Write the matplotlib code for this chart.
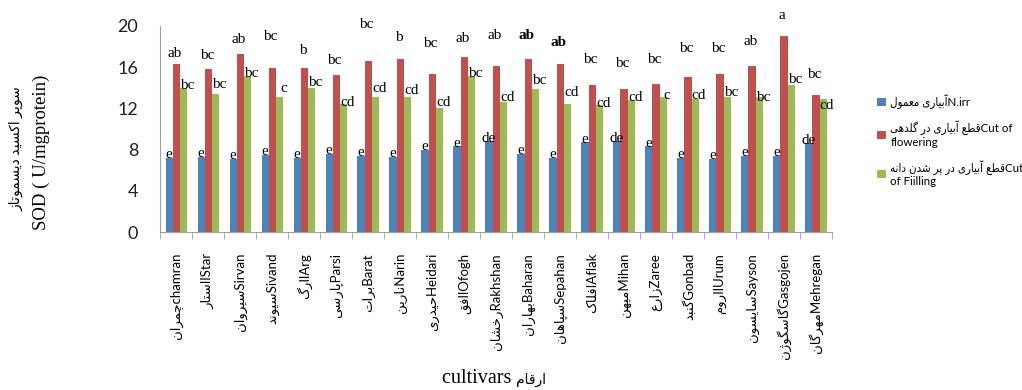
import unicodedata
import numpy as np
import matplotlib
matplotlib.use('Agg')
import matplotlib.pyplot as plt
from matplotlib.font_manager import FontProperties

# SOD activity per cultivar under three irrigation treatments
cultivars_en = ['chamran', 'lStar', 'Sirvan', 'Sivand', 'lArg', 'Parsi', 'Barat',
                'Narin', 'Heidari', 'lOfogh', 'Rakhshan', 'Baharan', 'Sepahan',
                'Aflak', 'Mihan', 'Zaree', 'Gonbad', 'lUrum', 'Sayson', 'Gasgojen',
                'Mehregan']
cultivars_fa = ['چمران', 'استار', 'سیروان', 'سیوند', 'ارگ', 'پارسی', 'برات',
                'نارین', 'حیدری', 'افق', 'رخشان', 'بهاران', 'سپاهان',
                'افلاک', 'میهن', 'زارع', 'گنبد', 'اروم', 'سایسون', 'گاسگوژن',
                'مهرگان']

normal = [7.2, 7.3, 7.1, 7.5, 7.2, 7.6, 7.4, 7.3, 8.0, 8.3, 8.8, 7.6, 7.2,
          8.7, 8.8, 8.3, 7.2, 7.1, 7.4, 7.4, 8.6]
cut_flowering = [16.3, 15.8, 17.3, 15.9, 15.9, 15.2, 16.6, 16.8, 15.3, 17.0, 16.1,
                 16.8, 16.3, 14.3, 13.9, 14.4, 15.0, 15.3, 16.1, 19.0, 13.3]
cut_filling = [14.0, 13.4, 15.1, 13.1, 14.0, 12.4, 13.1, 13.1, 12.0, 15.1, 12.6,
               13.9, 12.4, 12.3, 12.8, 13.1, 12.9, 13.1, 13.1, 14.3, 12.9]

letters_normal = ['e'] * 21
for i in (10, 14, 20):
    letters_normal[i] = 'de'
letters_flowering = ['ab', 'bc', 'ab', 'bc', 'b', 'bc', 'bc', 'b', 'bc', 'ab', 'ab',
                     'ab', 'ab', 'bc', 'bc', 'bc', 'bc', 'bc', 'ab', 'a', 'bc']
letters_filling = ['bc', 'bc', 'bc', 'c', 'bc', 'cd', 'cd', 'cd', 'cd', 'bc', 'cd',
                   'bc', 'cd', 'cd', 'cd', 'c', 'cd', 'bc', 'bc', 'bc', 'cd']

# how far (px) each letter sits above its bar
lift_flowering = [10, 14, 14, 32, 18, 15, 36, 21, 31, 18, 30, 23, 21, 25, 25, 24,
                  29, 26, 24, 21, 20]
lift_filling = [2, 9, 3, 8, 5, 2, 8, 6, 6, 3, 5, 8, 12, 2, 3, 1, 3, 4, -1, 5, -7]

BLUE, RED, GREEN = '#4F81BD', '#C0504D', '#9BBB59'
SANS = ['Lato', 'DejaVu Sans']
SERIF = ['Liberation Serif', 'DejaVu Sans']

NON_JOINING = set('آأإادذرزژوؤ')


def is_arabic(ch):
    return '\u0600' <= ch <= '\u06ff'


def fa(text):
    # no Arabic shaping in matplotlib: pick contextual forms, then reverse for RTL
    out = []
    for i, ch in enumerate(text):
        if not is_arabic(ch):
            out.append(ch)
            continue
        prev = text[i - 1] if i > 0 else ''
        nxt = text[i + 1] if i + 1 < len(text) else ''
        after = prev != '' and is_arabic(prev) and prev not in NON_JOINING
        before = nxt != '' and is_arabic(nxt) and ch not in NON_JOINING
        form = {(True, True): 'MEDIAL', (True, False): 'FINAL',
                (False, True): 'INITIAL', (False, False): 'ISOLATED'}[(after, before)]
        try:
            out.append(unicodedata.lookup(f'{unicodedata.name(ch)} {form} FORM'))
        except KeyError:
            out.append(ch)
    return ''.join(reversed(out))


fig = plt.figure(figsize=(10.22, 3.9), dpi=100)
ax = fig.add_axes([0.157, 0.405, 0.657, 0.529])

x = np.arange(len(cultivars_en))
w = 0.225
ax.bar(x - w, normal, w, color=BLUE, label=fa('آبیاری معمول') + 'N.irr')
ax.bar(x, cut_flowering, w, color=RED, label=fa('قطع آبیاری در گلدهی') + 'Cut of\nflowering')
ax.bar(x + w, cut_filling, w, color=GREEN, label=fa('قطع آبیاری در پر شدن دانه') + 'Cut\nof Fiilling')

px = 0.72  # points per pixel at 100 dpi
for i in x:
    ax.annotate(letters_normal[i], (i - w, normal[i]), xytext=(0, 3 * px),
                textcoords='offset points', ha='center', va='center',
                family=SERIF, fontsize=11)
    ax.annotate(letters_flowering[i], (i - 0.05, cut_flowering[i]),
                xytext=(0, lift_flowering[i] * px), textcoords='offset points',
                ha='center', va='center', family=SERIF, fontsize=11,
                fontweight='bold' if i in (11, 12) else 'normal')
    ax.annotate(letters_filling[i], (i + w + 0.12, cut_filling[i]),
                xytext=(0, lift_filling[i] * px), textcoords='offset points',
                ha='center', va='center', family=SERIF, fontsize=11)

ax.set_xlim(-0.5, len(x) - 0.5)
ax.set_ylim(0, 20)
ax.set_yticks(np.arange(0, 21, 4))
ax.tick_params(axis='y', length=0, pad=16, labelsize=13, labelcolor='#222222')
for t in ax.get_yticklabels():
    t.set_family(SANS)

ax.set_xticks(x)
ax.set_xticklabels([fa(f) + e for f, e in zip(cultivars_fa, cultivars_en)],
                   rotation=90, va='top', ha='center', family=SANS, fontsize=9.5)
ax.set_xticks(np.arange(-0.5, len(x)), minor=True)
ax.tick_params(axis='x', which='major', length=0, pad=15)
ax.tick_params(axis='x', which='minor', length=5, color='#a0a0a0', direction='out')

for s in ('top', 'right'):
    ax.spines[s].set_visible(False)
for s in ('left', 'bottom'):
    ax.spines[s].set_color('#a0a0a0')

# two-line y title: Persian name above the English unit
fig.text(0.016, 0.62, fa('سوپر اکسید دیسموتاز'), rotation=90, ha='center',
         va='center', family=SERIF, fontsize=10)
fig.text(0.040, 0.61, 'SOD ( U/mgprotein)', rotation=90, ha='center',
         va='center', family=SERIF, fontsize=13.5)

fig.text(0.505, 0.03, 'cultivars ', ha='right', va='center',
         family=SERIF, fontsize=14.5)
fig.text(0.505, 0.025, fa('ارقام'), ha='left', va='center',
         family=SERIF, fontsize=10)

ax.legend(loc='upper left', bbox_to_anchor=(0.848, 0.785),
          bbox_transform=fig.transFigure, frameon=False,
          prop=FontProperties(family=SANS, size=8.3, stretch='condensed'),
          handlelength=0.75, handleheight=0.75, handletextpad=0.4, labelspacing=1.0)

fig.savefig('out.png', dpi=100)
